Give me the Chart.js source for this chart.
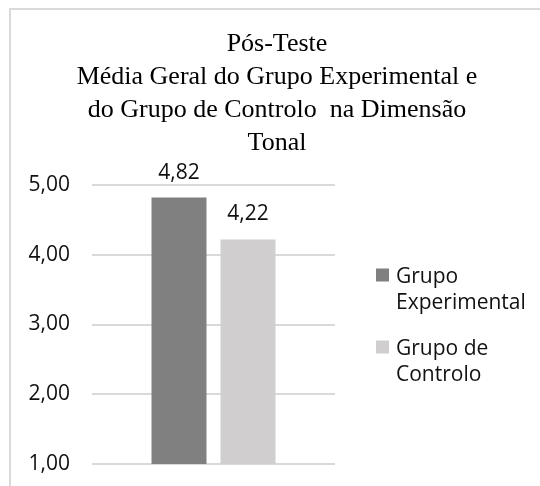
<!DOCTYPE html>
<html>
<head>
<meta charset="utf-8">
<script src="https://cdn.jsdelivr.net/npm/chart.js@4/dist/chart.umd.min.js"></script>
<style>
    html, body { margin: 0; padding: 0; background: #fff; overflow: hidden; }
    #moldura { position: absolute; left: 9px; top: 8px; width: 600px; height: 600px; border: 2px solid #d9d9d9; }
    #grafico-wrap { position: absolute; left: 0; top: 0; width: 540px; height: 486px; }
</style>
</head>
<body>
<div id="moldura"></div>
<div id="grafico-wrap"><canvas id="grafico-tonal" width="540" height="486"></canvas></div>
<script>
// Dados do pós-teste (dimensão tonal)
const categorias = [""];
const grupos = [["Grupo", "Experimental"], ["Grupo de", "Controlo"]];
const medias = [[4.82], [4.22]];
const cores = ["#808080", "#d0cece"];
const titulo = ["Pós-Teste", "Média Geral do Grupo Experimental e", "do Grupo de Controlo  na Dimensão", "Tonal"];
const eixoMin = 1;
const eixoMax = 5;

const formatar = (v) => v.toFixed(2).replace(".", ",");
const fonteTexto = "'Open Sans', 'Noto Sans', sans-serif";
const corTexto = "#111";

// Título centrado na largura toda do gráfico (não só na área das barras)
const tituloCentrado = {
    id: "tituloCentrado",
    afterDraw(chart) {
        const ctx = chart.ctx;
        ctx.save();
        ctx.font = "26px 'Liberation Serif', 'Times New Roman', serif";
        ctx.fillStyle = "#000";
        ctx.textAlign = "center";
        ctx.textBaseline = "middle";
        titulo.forEach((linha, k) => {
            ctx.fillText(linha, chart.width / 2 + 7, 44 + k * 33);
        });
        ctx.restore();
    }
};

// Rótulos de valor por cima das barras
const rotulosValores = {
    id: "rotulosValores",
    afterDatasetsDraw(chart) {
        const ctx = chart.ctx;
        ctx.save();
        ctx.font = "21px " + fonteTexto;
        ctx.fillStyle = corTexto;
        ctx.textAlign = "center";
        ctx.textBaseline = "alphabetic";
        chart.data.datasets.forEach((ds, i) => {
            chart.getDatasetMeta(i).data.forEach((bar, j) => {
                ctx.fillText(formatar(ds.data[j]), bar.x, bar.y - 19);
            });
        });
        ctx.restore();
    }
};

// Legenda à direita, com o texto em duas linhas
const legendaDireita = {
    id: "legendaDireita",
    afterDraw(chart) {
        const ctx = chart.ctx;
        const area = chart.chartArea;
        const x = area.right + 41;
        ctx.save();
        ctx.font = "21px " + fonteTexto;
        ctx.textAlign = "left";
        ctx.textBaseline = "alphabetic";
        chart.data.datasets.forEach((ds, i) => {
            const yc = area.top + 90 + i * 72;
            ctx.fillStyle = ds.backgroundColor;
            ctx.fillRect(x, yc - 6.5, 13, 13);
            ctx.fillStyle = corTexto;
            ds.label.forEach((linha, k) => {
                ctx.fillText(linha, x + 20, yc + 7.5 + k * 26);
            });
        });
        ctx.restore();
    }
};

new Chart(document.querySelector("#grafico-tonal"), {
    type: "bar",
    data: {
        labels: categorias,
        datasets: grupos.map((g, i) => ({
            label: g,
            data: medias[i],
            backgroundColor: cores[i],
            categoryPercentage: 0.568,
            barPercentage: 0.797
        }))
    },
    options: {
        responsive: false,
        animation: false,
        layout: { padding: { left: 0, right: 205, top: 185, bottom: 22 } },
        plugins: {
            legend: { display: false },
            tooltip: { enabled: false },
            title: { display: false }
        },
        scales: {
            x: { display: false },
            y: {
                min: eixoMin,
                max: eixoMax,
                afterFit(scale) { scale.width = 92; },
                ticks: {
                    stepSize: 1,
                    padding: 0,
                    color: corTexto,
                    font: { family: fonteTexto, size: 21 },
                    callback: (v) => formatar(v)
                },
                // marcas invisíveis só para afastar os números das linhas
                grid: { color: "#d9d9d9", lineWidth: 2, drawTicks: true, tickLength: 22, tickColor: "rgba(0,0,0,0)" },
                border: { display: false }
            }
        }
    },
    plugins: [tituloCentrado, rotulosValores, legendaDireita]
});
</script>
</body>
</html>
